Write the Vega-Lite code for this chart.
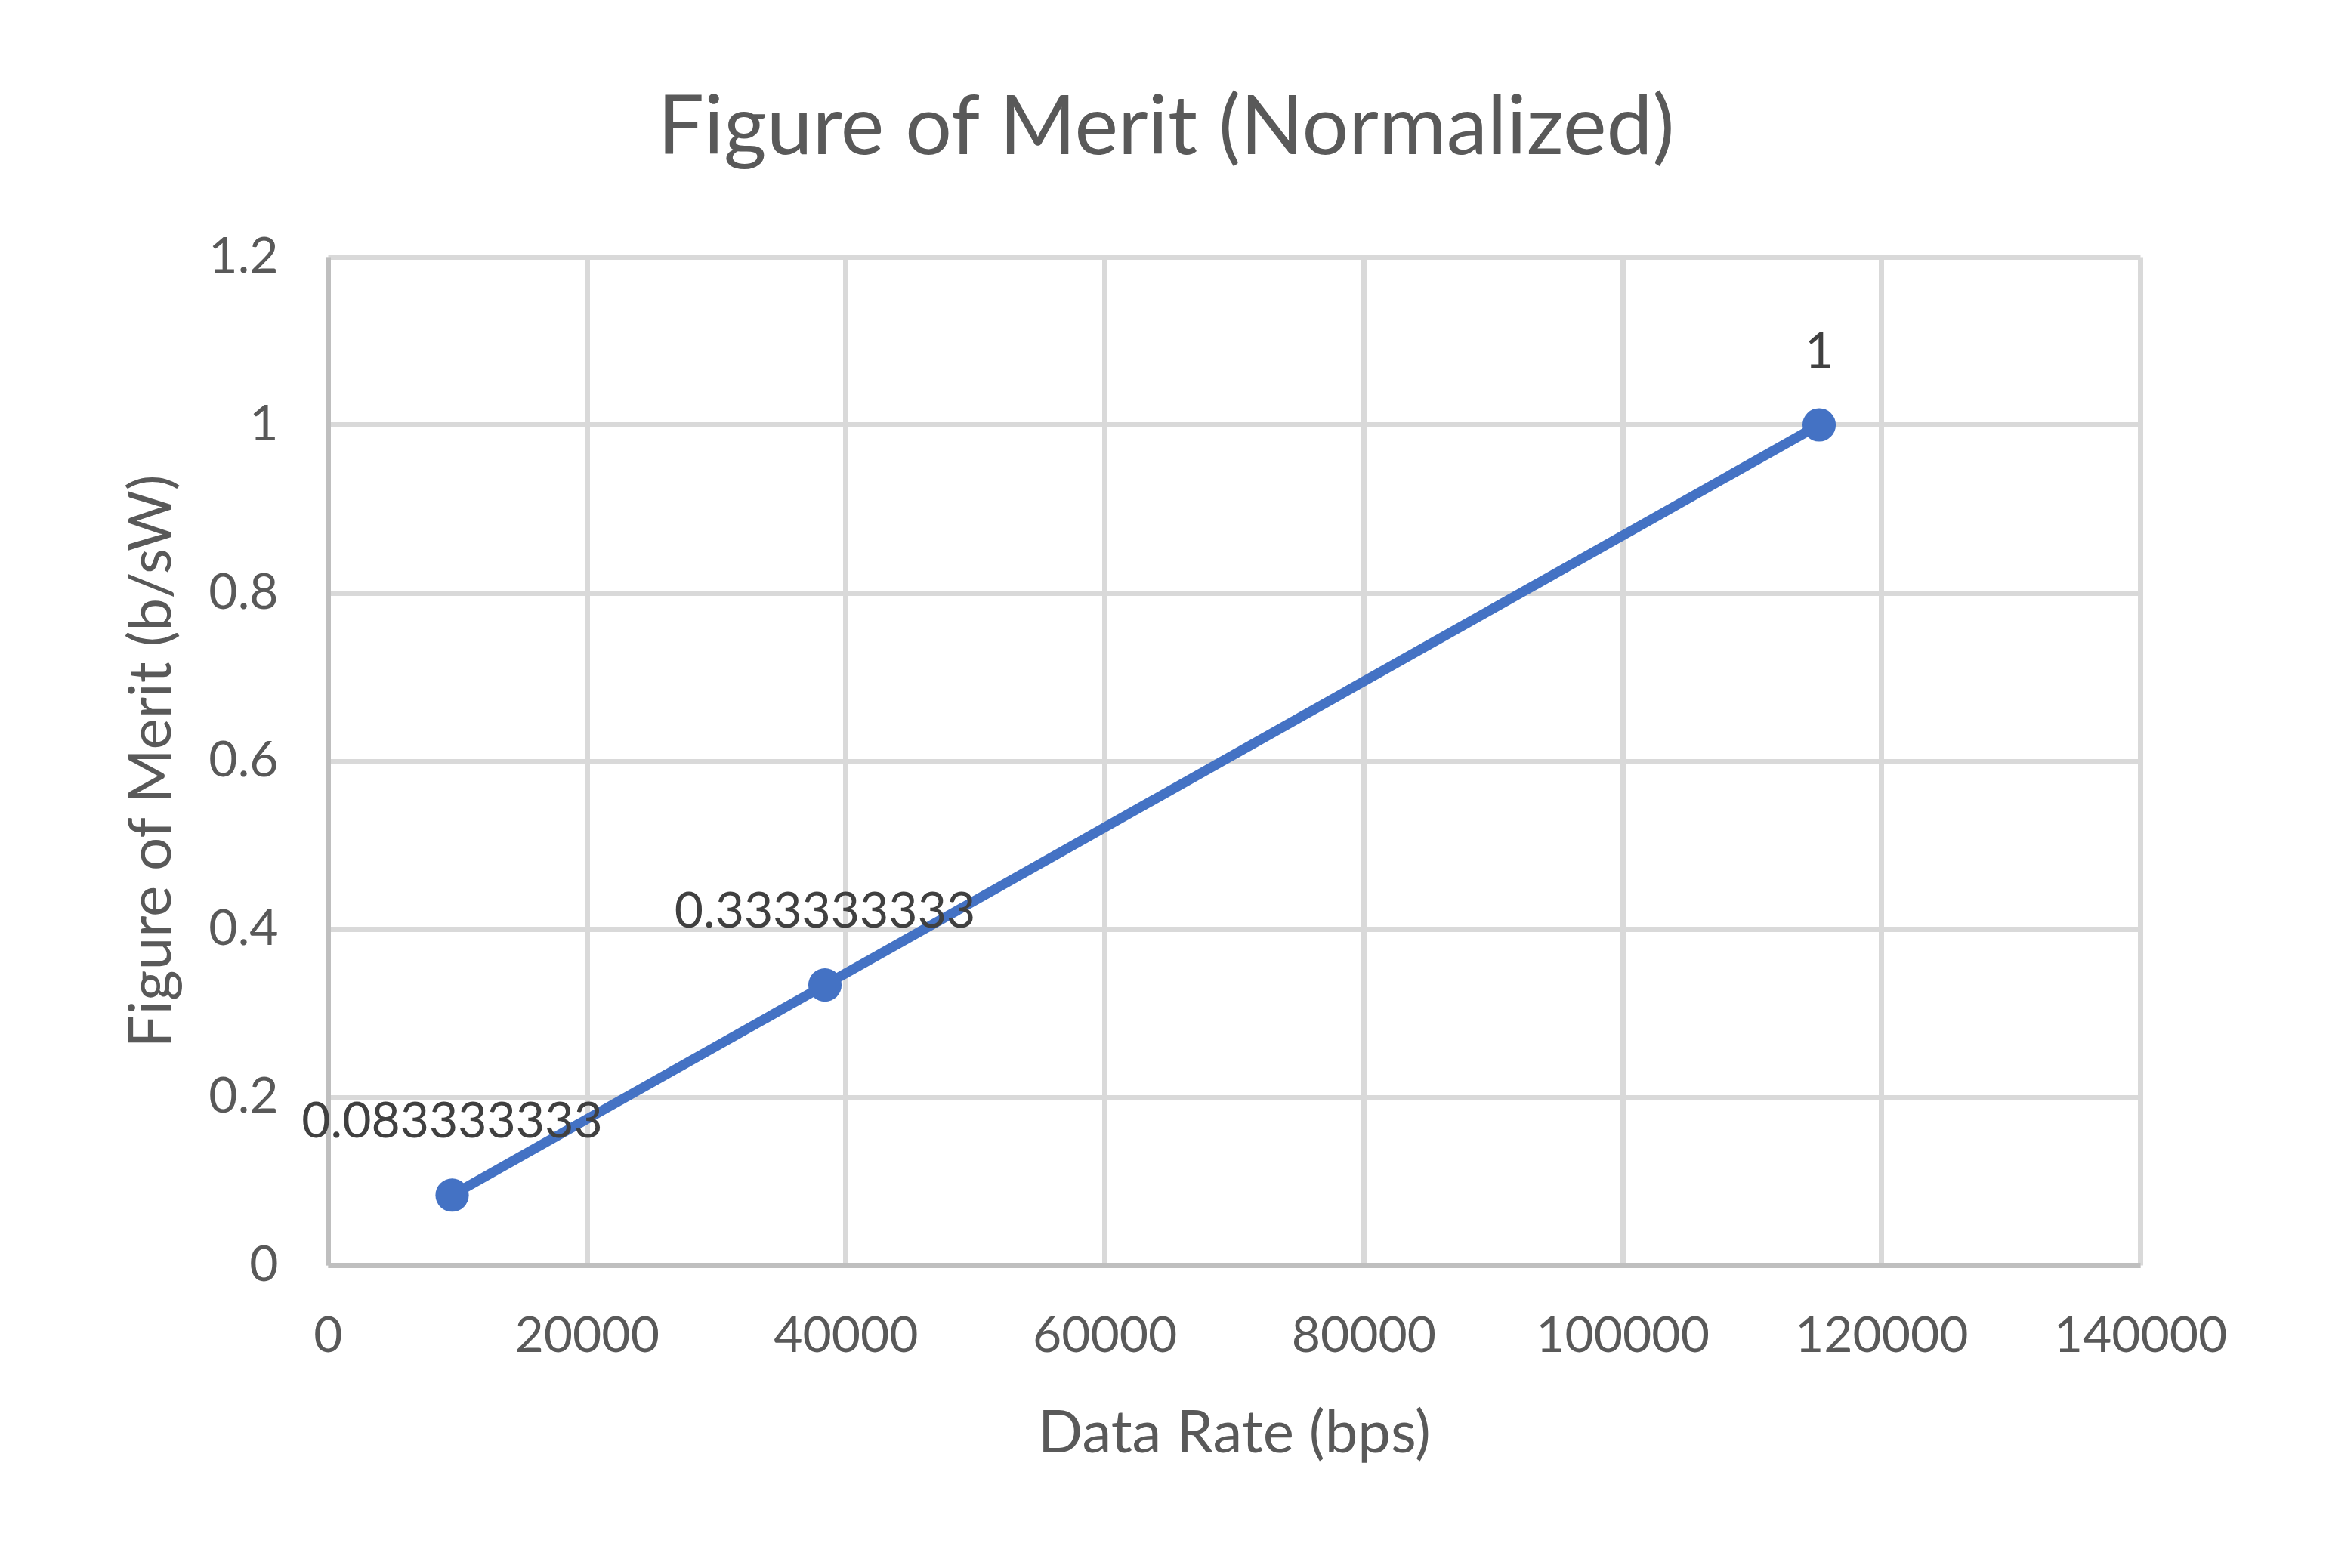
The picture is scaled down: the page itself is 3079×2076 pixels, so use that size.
{
  "$schema": "https://vega.github.io/schema/vega-lite/v6.json",
  "width": 2399,
  "height": 1335,
  "autosize": {"type": "none"},
  "padding": {"left": 434, "top": 340, "right": 246, "bottom": 401},
  "background": "white",
  "title": {
    "text": "Figure of Merit (Normalized)",
    "font": "Lato",
    "fontSize": 109,
    "fontWeight": "normal",
    "color": "#595959",
    "anchor": "middle",
    "frame": "group",
    "baseline": "alphabetic",
    "dx": -90,
    "offset": -6
  },
  "data": {
    "values": [
      {"rate": 9600, "fom": 0.083333333, "label": "0.083333333"},
      {"rate": 38400, "fom": 0.333333333, "label": "0.333333333"},
      {"rate": 115200, "fom": 1, "label": "1"}
    ]
  },
  "encoding": {
    "x": {
      "field": "rate",
      "type": "quantitative",
      "scale": {"domain": [0, 140000], "nice": false, "zero": false},
      "axis": {
        "title": "Data Rate (bps)",
        "values": [0, 20000, 40000, 60000, 80000, 100000, 120000, 140000],
        "format": "d",
        "labelPadding": 62,
        "titlePadding": 58,
        "titleFontSize": 78
      }
    },
    "y": {
      "field": "fom",
      "type": "quantitative",
      "scale": {"domain": [0, 1.2], "nice": false, "zero": false},
      "axis": {
        "title": "Figure of Merit (b/sW)",
        "values": [0, 0.2, 0.4, 0.6, 0.8, 1, 1.2],
        "format": "~g",
        "labelPadding": 66,
        "titlePadding": 34,
        "titleFontSize": 78
      }
    }
  },
  "layer": [
    {"mark": {"type": "line", "color": "#4472C4", "strokeWidth": 13}},
    {"mark": {"type": "point", "filled": true, "size": 1950, "color": "#4472C4", "opacity": 1}},
    {
      "mark": {"type": "text", "dy": -76, "baseline": "alphabetic", "align": "center", "font": "Lato", "fontSize": 66, "color": "#404040"},
      "encoding": {"text": {"field": "label"}}
    }
  ],
  "config": {
    "view": {"stroke": null},
    "axis": {
      "domainColor": "#bfbfbf",
      "domainWidth": 7,
      "gridColor": "#d9d9d9",
      "gridWidth": 7,
      "ticks": false,
      "labelFont": "Lato",
      "labelFontSize": 66,
      "labelColor": "#595959",
      "labelLimit": 0,
      "labelFlush": false,
      "labelOverlap": false,
      "titleFont": "Lato",
      "titleFontWeight": "normal",
      "titleColor": "#595959"
    }
  }
}
